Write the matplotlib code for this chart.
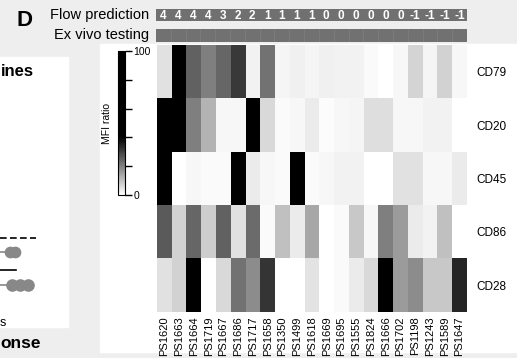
import numpy as np
import matplotlib
matplotlib.use("Agg")
import matplotlib.pyplot as plt
from matplotlib.colors import LinearSegmentedColormap, Normalize
from matplotlib.cm import ScalarMappable
from matplotlib.patches import Rectangle

plt.rcParams['font.family'] = ['Liberation Sans', 'DejaVu Sans']

# data
samples = ["PS1620", "PS1663", "PS1664", "PS1719", "PS1667", "PS1686", "PS1717",
           "PS1658", "PS1350", "PS1499", "PS1618", "PS1669", "PS1695", "PS1555",
           "PS1824", "PS1666", "PS1702", "PS1198", "PS1243", "PS1589", "PS1647"]
flow_prediction = [4, 4, 4, 4, 3, 2, 2, 1, 1, 1, 1, 0, 0, 0, 0, 0, 0, -1, -1, -1, -1]
markers = ["CD79", "CD20", "CD45", "CD86", "CD28"]
cd79 = [4.8, 100, 24.8, 20, 24, 31.2, 2, 22, 1.6, 2.4, 1.6, 2.4, 2, 2, 0.8, 0, 1.2, 6.8, 1.6, 7.2, 1.2]
cd20 = [100, 92, 20, 12, 1.2, 1.2, 85, 6, 0.8, 1.2, 3.2, 0.4, 1.2, 1.6, 5.2, 5.2, 1.2, 1.2, 2, 2, 0]
cd45 = [88, 0, 1.2, 0.8, 0.8, 70, 3.2, 1.2, 0.8, 78, 0.8, 1.2, 2, 2, 0, 0, 4.8, 4.8, 1.2, 1.2, 3.2]
cd86 = [26, 7.2, 24, 8, 24.8, 4.8, 23.2, 0.8, 10, 3.2, 14, 0, 0.8, 8.8, 1.2, 20, 16, 3.2, 2, 10, 0]
cd28 = [4.8, 7.2, 62, 0, 6, 22, 18, 32, 0, 0, 4.4, 0, 0.8, 3.2, 6, 55, 16, 18, 8.8, 8.8, 34]
cbar_ticks = [0, 20, 40, 60, 80, 100]
cbar_labels = ["0", "", "", "", "", "100"]

W, H = 517, 358


def rect(x0, y0, x1, y1):
    return [x0 / W, 1 - y1 / H, (x1 - x0) / W, (y1 - y0) / H]


fig = plt.figure(figsize=(W / 100, H / 100), dpi=100, facecolor="#eeeeee")

# background panels
fig.patches.append(Rectangle((100 / W, 1 - 352 / H), 417 / W, 308 / H,
                             transform=fig.transFigure, color="white", zorder=-10))
fig.patches.append(Rectangle((0, 1 - 327 / H), 68 / W, 270 / H,
                             transform=fig.transFigure, color="white", zorder=-10))

mfi = LinearSegmentedColormap.from_list("mfi", [(0, "white"), (0.4, "black"), (1, "black")])
norm = Normalize(0, 100)

# heatmap
ax = fig.add_axes(rect(157, 45, 467, 312))
grid = np.array([cd79, cd20, cd45, cd86, cd28])
ax.imshow(grid, cmap=mfi, norm=norm, aspect="auto", interpolation="nearest")
ax.set_xticks(range(len(samples)))
ax.set_xticklabels(samples, rotation=90, fontsize=8)
ax.set_yticks(range(len(markers)))
ax.set_yticklabels(markers, fontsize=8.5)
ax.yaxis.tick_right()
ax.tick_params(length=0)
ax.tick_params(axis="x", pad=3)
ax.tick_params(axis="y", pad=7)
for s in ax.spines.values():
    s.set_visible(False)

# flow prediction strip
axf = fig.add_axes(rect(156, 9, 467, 21))
axf.set_facecolor("#707070")
axf.set_xlim(-0.5, len(samples) - 0.5)
axf.set_ylim(0, 1)
for i, v in enumerate(flow_prediction):
    axf.text(i, 0.45, str(v), color="white", fontsize=8.5, fontweight="bold",
             ha="center", va="center")
axf.set_xticks([])
axf.set_yticks([])
for s in axf.spines.values():
    s.set_visible(False)

# ex vivo testing strip
axe = fig.add_axes(rect(156, 29, 467, 42))
axe.set_facecolor("#717171")
axe.set_xlim(-0.5, len(samples) - 0.5)
for i in range(1, len(samples)):
    axe.axvline(i - 0.5, color="#8a8a8a", lw=0.6, alpha=0.5)
axe.set_xticks([])
axe.set_yticks([])
for s in axe.spines.values():
    s.set_visible(False)

fig.text(149 / W, 1 - 15 / H, "Flow prediction", fontsize=10.5, ha="right", va="center")
fig.text(149 / W, 1 - 35 / H, "Ex vivo testing", fontsize=10.5, ha="right", va="center")
fig.text(17 / W, 1 - 21 / H, "D", fontsize=16, fontweight="bold", ha="left", va="center")

# colorbar
cax = fig.add_axes(rect(118, 51, 125, 195))
cb = fig.colorbar(ScalarMappable(norm=norm, cmap=mfi), cax=cax, ticks=cbar_ticks)
cb.set_ticklabels(cbar_labels)
cb.outline.set_linewidth(0.8)
cax.tick_params(length=5, width=1, labelsize=7.5, pad=1)
cax.yaxis.set_label_position("left")
cax.set_ylabel("MFI ratio", fontsize=7.5, labelpad=4)

# fragments of the neighbouring panel
fig.text(1 / W, 1 - 72 / H, "ines", fontsize=12, fontweight="bold", ha="left", va="center")
fig.text(0, 1 - 323 / H, "s", fontsize=9, ha="left", va="center")
fig.text(0, 1 - 343 / H, "onse", fontsize=12.5, fontweight="bold", ha="left", va="center")
axl = fig.add_axes(rect(0, 230, 40, 295))
axl.set_xlim(0, 40)
axl.set_ylim(295, 230)
axl.axis("off")
axl.plot([0, 36], [238, 238], color="black", lw=1.2, ls=(0, (4, 2)))
axl.plot([0, 16], [270, 270], color="black", lw=1.2)
axl.plot([0, 12], [252, 252], color="#888888", lw=1.2)
axl.scatter([10, 15], [252, 252], s=55, color="#888888", zorder=3)
axl.plot([0, 12], [285, 285], color="#888888", lw=1.2)
axl.scatter([12, 20, 28], [285, 285, 285], s=65, color="#888888", zorder=3)

fig.savefig("out.png", dpi=100, facecolor=fig.get_facecolor())
